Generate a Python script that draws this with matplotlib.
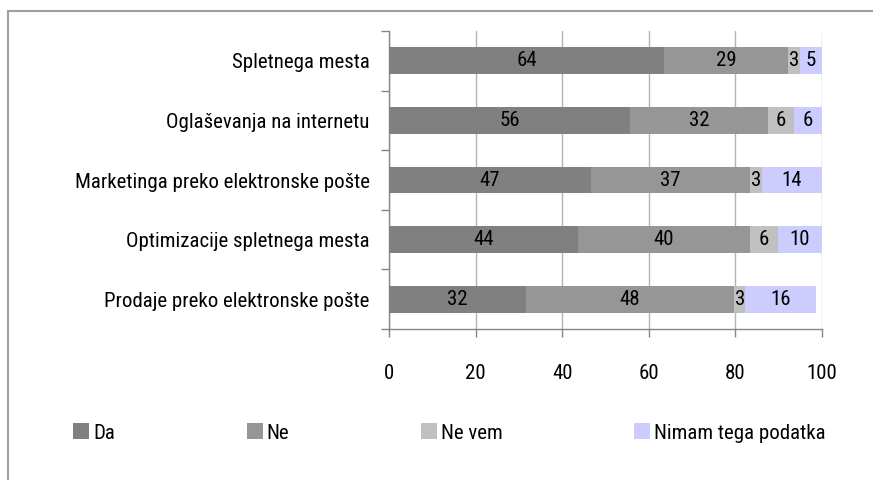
import matplotlib
matplotlib.use("Agg")
import matplotlib.pyplot as plt
from matplotlib.patches import Rectangle, Patch
from matplotlib import font_manager
import numpy as np

names = {f.name for f in font_manager.fontManager.ttflist}
fam = next((n for n in ['Liberation Sans Narrow', 'Arimo Narrow', 'Roboto Condensed',
                        'Archivo Narrow'] if n in names), 'Liberation Sans')
plt.rcParams['font.family'] = [fam, 'DejaVu Sans']

categories = ["Spletnega mesta", "Oglaševanja na internetu",
              "Marketinga preko elektronske pošte",
              "Optimizacije spletnega mesta",
              "Prodaje preko elektronske pošte"]
series_names = ["Da", "Ne", "Ne vem", "Nimam tega podatka"]
da = [63.6, 55.6, 46.6, 43.6, 31.6]
ne = [28.6, 32.0, 36.8, 39.8, 48.1]
ne_vem = [2.7, 6.0, 2.8, 6.4, 2.6]
nimam = [5.1, 6.4, 13.8, 10.2, 16.3]
colors = ["#808080", "#969696", "#c0c0c0", "#ccccff"]
xticks = [0, 20, 40, 60, 80, 100]

fig = plt.figure(figsize=(8.73, 4.80), dpi=100)
W, H = 873, 480
ax = fig.add_axes([389 / W, 1 - 329 / H, (822 - 389) / W, (329 - 31) / H])

# outer frame
fig.patches.append(Rectangle((8 / W, -0.2), 1.2, 1 - 11 / H + 0.2,
                             transform=fig.transFigure, fill=False,
                             edgecolor="#a0a0a0", linewidth=1.5))

y = np.arange(len(categories))
left = np.zeros(len(categories))
fs = 15
for vals, col in zip([da, ne, ne_vem, nimam], colors):
    vals = np.array(vals)
    ax.barh(y, vals, left=left, height=0.45, color=col, zorder=3)
    for yi, l, v in zip(y, left, vals):
        ax.text(l + v / 2, yi, f"{round(v):d}", ha="center", va="center",
                fontsize=fs, color="black", zorder=4)
    left = left + vals

ax.set_ylim(len(categories) - 0.5, -0.5)
ax.set_xlim(0, 100)
ax.set_yticks(y)
ax.set_yticklabels(categories, fontsize=fs)
ax.set_yticks(np.arange(-0.5, len(categories), 1), minor=True)
ax.tick_params(axis="y", which="major", length=0, pad=14)
ax.tick_params(axis="y", which="minor", length=6, color="#868686", width=1)
ax.set_xticks(xticks)
ax.set_xticklabels([str(t) for t in xticks], fontsize=fs)
ax.tick_params(axis="x", length=6, color="#868686", width=1, pad=19)

ax.grid(axis="x", color="#b3b3b3", linewidth=1, zorder=0)
ax.set_axisbelow(True)
for s in ["top", "right"]:
    ax.spines[s].set_visible(False)
for s in ["left", "bottom"]:
    ax.spines[s].set_color("#868686")
    ax.spines[s].set_linewidth(1)

handles = [Patch(facecolor=c, edgecolor="none") for c in colors]
fig.legend(handles, series_names, loc="center left",
           bbox_to_anchor=(67 / W, 1 - 433 / H), ncol=4, frameon=False,
           fontsize=fs, handlelength=0.77, handleheight=0.77,
           handletextpad=0.2, columnspacing=6.3, borderaxespad=0,
           borderpad=0.3)

fig.savefig("out.png", dpi=100)
